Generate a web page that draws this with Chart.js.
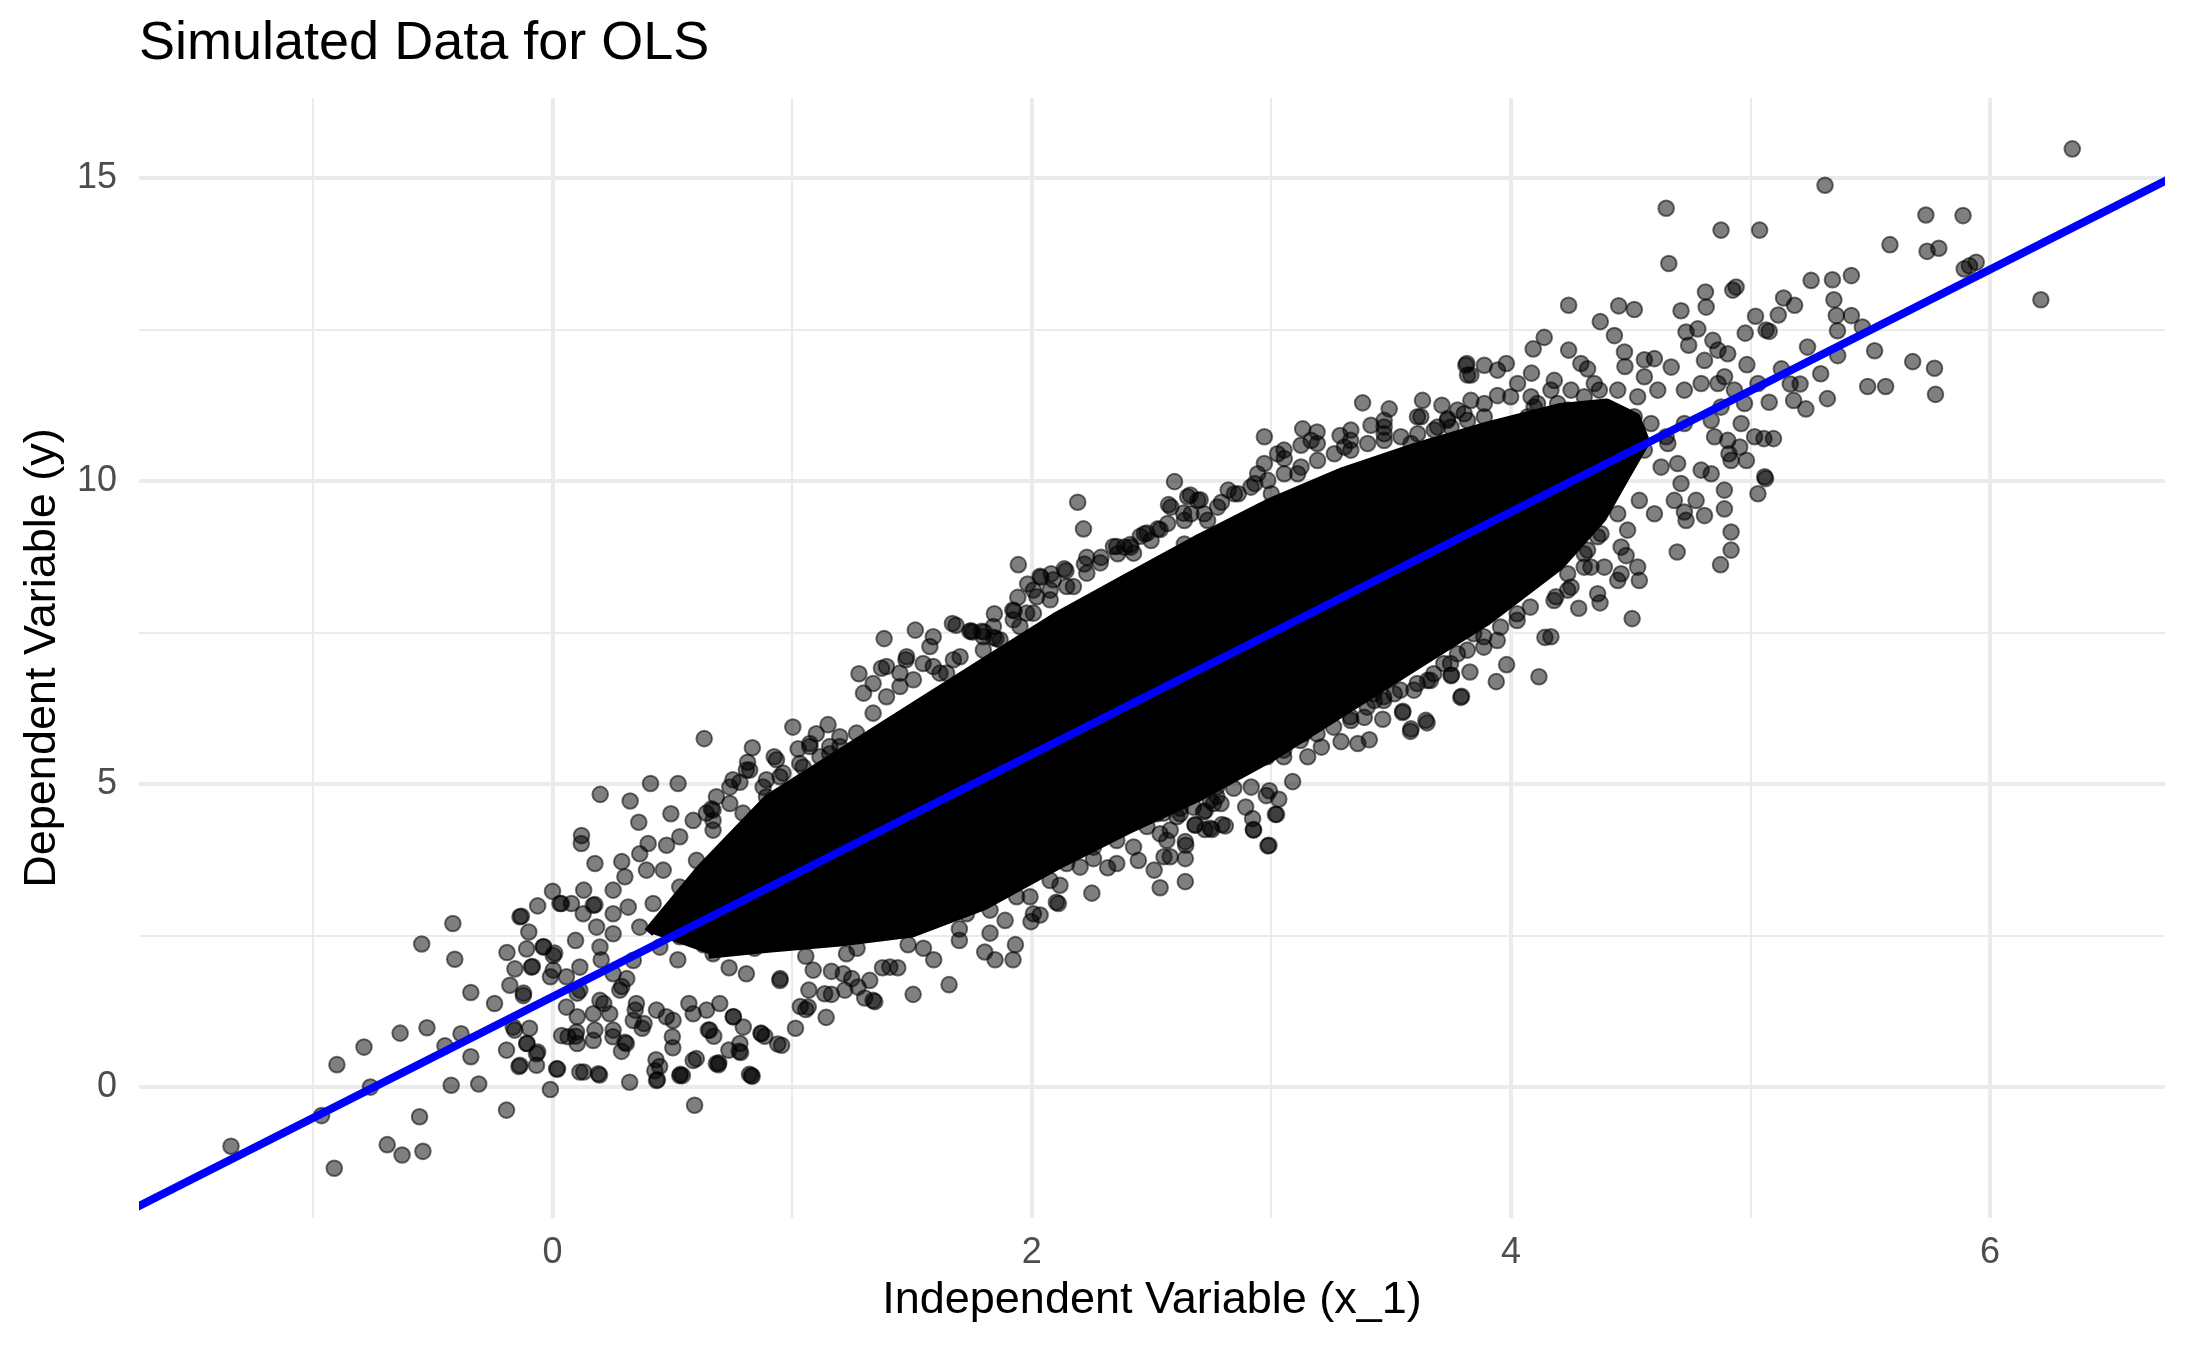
<!DOCTYPE html>
<html>
<head>
<meta charset="utf-8">
<title>Simulated Data for OLS</title>
<script src="https://cdn.jsdelivr.net/npm/chart.js@4/dist/chart.umd.min.js"></script>
<style>
  html, body { margin: 0; padding: 0; background: #ffffff; }
  #wrap { width: 2187px; height: 1351px; }
</style>
</head>
<body>
<div id="wrap"><canvas id="chart" width="2187" height="1351"></canvas></div>
<script>
// axis limits of the panel
const xMin = -1.726, xMax = 6.73;
const yMin = -2.16, yMax = 16.32;
const xGridTicks = [-1, 0, 1, 2, 3, 4, 5, 6];
const xTickLabels = [0, 2, 4, 6];
const yGridTicks = [0, 2.5, 5, 7.5, 10, 12.5, 15];
const yTickLabels = [0, 5, 10, 15];

// fitted OLS line, read at both ends of the panel
const fitX = [-1.8, 6.8];
const fitY = [-2.11, 15.09];

// saturated centre of the cloud (outline where the points merge into solid black)
const coreX = [0.40, 0.62, 0.90, 1.20, 1.50, 1.80, 2.10, 2.40, 2.70, 3.00, 3.30, 3.60, 3.90, 4.20, 4.40, 4.52, 4.56,
  4.48, 4.38, 4.20, 3.90, 3.60, 3.30, 3.00, 2.70, 2.40, 2.10, 1.80, 1.50, 1.20, 0.90, 0.65];
const coreY = [2.55, 3.60, 4.75, 5.50, 6.25, 7.00, 7.75, 8.40, 9.05, 9.65, 10.15, 10.55, 10.90, 11.20, 11.28, 11.05, 10.65,
  10.10, 9.40, 8.60, 7.70, 6.95, 6.20, 5.45, 4.80, 4.25, 3.65, 3.00, 2.55, 2.40, 2.30, 2.20];

// individual points around the core, [x_1, y]
const pointsLeft = [
  [-1.342,-0.975],[-0.964,-0.47],[-0.911,-1.34],[-0.760,0.0],[-0.900,0.37],[-0.787,0.66],[-0.636,0.89],[-0.524,0.98],
  [-0.690,-0.95],[-0.628,-1.12],[-0.541,-1.06],[-0.555,-0.49],[-0.546,2.36],[-0.416,2.70],[-0.408,2.11],[-0.423,0.03],
  [-0.308,0.05],[-0.449,0.68],[-0.382,0.88],[-0.341,0.50],[-0.341,1.56],[-0.242,1.38],[-0.192,-0.38],[-0.190,2.22],
  [-0.130,2.82],[-0.062,2.99],[0.0,3.23],[-0.099,2.56],[-0.009,-0.04],[-0.158,0.94],[-0.106,0.72],[-0.062,0.58],
  [-0.140,0.34],[0.021,0.30],[0.130,0.25],[0.196,0.20],[0.322,0.08],[0.438,0.12],[0.593,-0.30],[0.542,0.19],
  [0.692,0.37],[0.833,0.18],[0.956,0.69],[0.870,0.89],[0.785,0.57],[0.656,0.94],[0.432,0.45],[0.600,0.47],
  [0.500,0.83],[0.130,3.25],[0.289,3.72],[0.177,3.69],[0.302,3.47],[0.037,3.03],[0.177,3.01],[0.009,2.21],
  [-0.037,2.32],[-0.084,1.99],[-0.009,1.82],[-0.121,1.55],[0.103,1.55],[0.214,1.38],[0.103,1.16],[0.289,1.66],
  [0.345,1.27],[0.065,0.83],[0.177,0.94],[0.252,0.83],[0.382,1.05],[0.475,1.16],[0.643,1.27],[0.569,1.38],
  [0.755,1.16],[0.103,0.72],[0.308,0.72],[0.447,0.34],[0.736,0.61],[1.034,1.33],[1.07,1.60]
];
const pointsLowerLeft = [
  [0.633,5.75],[0.834,5.60],[0.814,5.36],[1.003,5.94],[1.150,5.98],[1.101,5.83],[0.925,5.45],[1.025,5.58],
  [0.782,5.03],[0.409,5.01],[0.524,5.01],[0.199,4.83],[0.324,4.72],[0.360,4.37],[0.121,4.15],[0.120,4.02],
  [0.494,4.51],[0.663,4.59],[0.587,4.40],[0.399,4.02],[0.476,3.99],[0.740,4.68],[0.670,4.24],[0.879,4.95],
  [0.949,5.12],[1.046,5.28],[1.157,5.50],[1.199,5.78],[1.220,1.60],[1.136,1.54],[1.338,1.43],[1.324,1.76],
  [1.275,1.65],[1.067,1.32],[1.213,1.87],[1.408,1.98],[0.038,0.85],[0.100,0.91],[0.170,0.77],[0.253,0.94],
  [0.302,0.74],[0.337,1.10],[0.239,1.21],[0.170,1.21],[0.114,1.60],[0.058,1.32],[0.198,1.43],[0.281,1.60],
  [0.350,1.38],[0.434,1.27],[0.503,1.10],[0.587,1.21],[0.650,0.94],[0.698,1.38],[0.754,1.16],[0.796,0.99],
  [0.872,0.88],[0.782,0.72],[0.684,0.39],[0.587,0.44],[0.434,0.11],[0.531,0.19],[0.830,0.19],[0.017,0.30],
  [0.114,0.25],[0.191,0.22],[-0.067,0.36],[-0.136,0.36],[-0.164,0.99],[-0.192,0.61],[-0.108,0.72],[-0.067,0.55],
  [-0.136,2.81],[-0.108,2.28],[-0.039,2.31],[-0.157,1.95],[-0.088,1.98],[0.003,2.17],[-0.178,1.68],[-0.122,1.51],
  [0.031,3.03],[0.079,3.03],[0.170,3.00],[0.128,2.86],[0.003,1.93],[0.058,1.82],[0.114,1.98],[0.184,2.64],
  [0.253,3.25],[0.364,3.85],[0.392,3.58],[0.253,2.86],[0.198,2.31],[0.253,2.53],[0.316,2.97]
];
const pointsMiddle = [
  [1.279,6.82],[1.298,6.50],[1.384,7.40],[1.373,6.91],[1.475,7.05],[1.514,7.54],[1.589,7.43],[1.669,7.65],
  [1.742,7.52],[1.791,7.52],[1.840,7.42],[1.921,7.87],[1.944,8.62],[2.035,8.43],[2.136,8.55],[2.192,9.65],
  [2.216,9.21],[2.230,8.74],[2.077,8.20],[2.174,8.26],[2.355,8.92],[2.411,8.95],[2.481,9.14],[2.571,9.61],
  [2.662,9.77],[2.596,9.99],[1.617,6.83],[1.547,6.99],[1.450,6.83],[1.338,6.66],[1.157,5.62],[1.074,5.67],
  [0.893,5.07],[0.670,4.57],[1.923,7.71],[1.979,7.82],[2.021,8.09],[1.673,7.05],[1.798,7.43],
  [2.251,3.20],[2.536,3.29],[2.641,3.39],[2.511,3.58],[2.578,3.80],[2.641,3.77],[2.641,4.05],[2.355,3.69],
  [2.425,3.96],[2.481,4.30],[2.578,4.24],[2.682,4.32],[2.745,4.27],[2.759,4.68],[2.717,4.54],[2.620,4.60],
  [2.550,4.52],[2.258,3.77],[2.111,3.03],[2.035,2.84],[1.889,2.75],[1.826,2.92],[2.118,3.33],[1.993,3.14],
  [2.202,3.63],
  [1.655,1.69],[1.505,1.53],[1.847,2.10],[1.922,2.10],[1.932,2.35],[2.808,4.31],[2.925,4.25],[2.990,3.99],
  [3.022,4.50],[1.345,1.41],[1.303,1.47],[1.057,1.28],[0.940,0.71],[0.822,0.21],[0.694,0.40],[0.534,0.21],
  [0.427,0.27],[1.164,1.53],[1.249,1.79],[1.441,1.97],[1.548,2.29],[1.698,2.61],[1.826,2.54],[1.997,2.73],
  [2.103,3.05],[2.317,3.62],[2.445,3.74],[2.552,3.80],[2.723,4.25],[2.893,4.62],[2.979,4.81],[1.014,0.97],
  [1.142,1.15],[0.886,0.84],[0.779,0.59],[0.673,0.84],[0.502,0.65],[0.374,0.97],[0.288,0.59],[0.096,0.84],
  [-0.096,0.97]
];
const pointsUpperMiddle = [
  [2.971,10.73],[3.131,10.86],[3.191,10.81],[3.287,10.75],[3.124,10.59],[3.381,11.29],[3.492,11.19],[3.631,11.33],
  [3.712,11.25],[3.812,11.91],[3.819,11.75],[3.416,10.92],[3.471,10.78],[3.624,11.06],[3.736,11.03],[3.791,10.70],
  [3.583,10.62],[3.054,10.37],[2.971,10.29],[3.110,10.12],[3.305,10.56],[2.581,9.57],[2.651,9.74],[2.693,9.68],
  [2.665,9.46],[2.792,9.65],[2.820,9.85],[2.862,9.79],[2.931,9.96],[3.000,9.79],[2.470,9.13],[2.526,9.21],
  [2.414,8.91],[2.359,8.80],[2.143,8.52],[2.039,8.41],[1.983,8.30],[1.927,7.86],[1.684,7.62],[1.754,7.51],
  [1.802,7.51],[1.851,7.40],[2.734,9.35],[2.637,8.96],[2.720,8.91],
  [3.388,6.10],[3.465,6.07],[3.548,6.18],[3.645,6.05],[3.583,5.91],[3.791,6.43],[3.652,6.71],[3.750,6.79],
  [3.513,6.49],[3.430,6.38],[3.332,6.05],[3.694,7.26],[3.777,7.15],[3.722,7.53],[3.750,7.81]
];
const pointsUpperRight = [
  [4.648,14.50],[4.877,14.14],[5.038,14.14],[4.659,13.59],[4.940,13.20],[4.926,13.15],[4.812,13.12],[4.815,12.87],
  [4.710,12.81],[5.021,12.72],[4.978,12.44],[5.065,12.49],[4.241,12.90],[4.450,12.89],[4.515,12.83],[4.373,12.63],
  [4.432,12.40],[4.474,12.13],[4.476,11.89],[4.139,12.37],[4.093,12.18],[4.241,12.16],[4.731,12.46],[4.780,12.51],
  [4.742,12.24],[4.985,11.92],[3.816,11.94],[3.889,11.91],[3.981,11.94],[3.833,11.75],[3.944,11.83],[4.086,11.78],
  [4.181,11.66],[4.292,11.94],[4.320,11.85],[4.348,11.61],[4.557,12.00],[4.599,12.02],[4.669,11.88],[4.808,11.99],
  [4.864,12.16],[4.905,12.10],[4.843,12.32],[4.864,11.61],[4.557,11.72],[4.446,11.50],[4.529,11.39],[4.613,11.50],
  [4.724,11.50],[4.794,11.61],[4.892,11.72],[3.833,11.33],[3.944,11.41],[4.028,11.61],[4.084,11.39],[3.805,11.11],
  [3.735,11.00],[3.805,10.67],[3.889,11.06],[3.972,10.78],[4.070,11.06],[4.111,11.28],[4.195,11.28],[4.251,11.50],
  [4.369,11.50],
  [5.031,9.79],[5.059,10.07],[4.891,9.85],[4.891,9.54],[4.919,9.16],[4.919,8.86],[4.875,8.62],[4.694,8.83],
  [4.808,9.43],[4.731,9.35],[4.773,9.68],[4.682,9.68],[4.836,10.12],[4.794,10.18],[4.710,9.96],[4.627,10.23],
  [4.696,10.29],[4.599,9.46],[4.536,9.68],[4.446,9.46],[4.487,9.19],[4.460,8.91],[4.529,8.58],[4.536,8.36],
  [4.446,8.36],[4.362,8.14],[4.390,8.58],[4.320,8.86],[4.237,8.47],[4.905,10.67],[4.850,10.73],[4.919,10.34],
  [4.961,10.95],[5.017,10.73],[4.975,11.28],[4.933,11.50],[5.031,11.61],[4.648,10.73],[4.724,10.95],[4.836,11.00],
  [4.877,11.22]
];
const pointsFarRight = [
  [6.343,15.48],[5.311,14.88],[5.732,14.39],[5.887,14.38],[5.582,13.90],[5.737,13.79],[5.786,13.84],[5.914,13.55],
  [5.942,13.61],[5.892,13.50],[6.212,12.99],[5.253,13.31],[5.342,13.32],[5.421,13.39],[5.138,13.02],[5.184,12.90],
  [5.116,12.74],[5.078,12.47],[5.348,12.99],[5.358,12.73],[5.363,12.48],[5.421,12.73],[5.467,12.54],[5.238,12.21],
  [5.364,12.07],[5.518,12.15],[5.677,11.97],[5.768,11.86],[5.772,11.43],[5.489,11.56],[5.564,11.56],[5.293,11.77],
  [5.321,11.36],[5.231,11.19],[5.180,11.33],[5.078,11.30],[5.056,10.70],[5.096,10.70],[5.063,10.04],[5.129,11.85],
  [5.166,11.60],[5.207,11.60],[4.983,10.34],[4.955,10.56],[4.910,10.45],
  [4.506,7.73],[4.372,7.99],[4.283,7.90],[4.460,8.47],[4.334,8.58],[4.251,8.25],[4.188,8.09],[4.167,7.43],
  [4.481,8.77],[4.724,9.49],[4.362,9.08],[4.306,8.80]
];
const pointsLowerRight = [
  [4.142,7.42],[4.117,6.77],[3.939,6.69],[3.982,6.97],[3.794,6.45],[3.829,6.85],[3.752,6.80],[3.650,6.01],
  [3.581,5.87],[3.549,6.20],[3.409,5.73],[3.361,5.67],[3.291,5.70],[3.209,5.61],[3.152,5.45],[3.089,5.04],
  [3.031,4.75],[3.017,4.50],[2.922,4.43],[2.926,4.24],[2.986,3.98],[2.992,4.89],[2.916,4.95],[2.843,4.93],
  [2.790,4.68],[2.752,4.25],[2.794,4.33],[2.682,4.33],[2.724,4.56],[2.643,3.99],[2.620,4.51],[3.664,6.71],
  [3.720,6.99],[3.887,7.26],[3.943,7.37],[4.026,7.70],[4.081,7.92],[3.845,7.48],[4.180,8.03],[3.595,6.55],
  [3.469,6.44],[3.428,6.49],[3.260,5.94],[3.135,5.83],[3.052,5.45],[2.773,4.95]
];
// points along the edge of the saturated core
const pointsCoreUpper = [
  [0.753,5.07],[0.823,5.23],[0.893,4.79],[0.962,5.18],[1.032,5.34],[1.116,5.45],[1.199,5.62],[1.269,5.84],
  [1.338,6.17],[1.394,6.44],[1.450,6.61],[1.506,6.72],[1.589,6.94],[1.701,7.10],[1.798,7.21],[1.868,7.38],
  [1.951,7.60],[2.007,7.82],[2.077,8.04],[2.146,8.26],[2.230,8.48],[2.286,8.65],[2.425,8.81],[2.536,9.20],
  [2.634,9.47],[2.703,9.69],[0.684,4.79],[0.642,4.52],[0.795,4.52],[1.074,5.62],[0.935,5.40],[1.394,6.94],
  [1.478,7.10],[1.575,7.27],[1.645,6.83],[1.840,7.60],[2.007,8.20],[2.090,8.37],[2.341,8.92],[2.453,9.09],
  [2.081,8.47],[2.220,8.63],[2.289,8.74],[2.387,8.91],[2.498,9.02],[2.567,9.30],[2.637,9.35],[2.720,9.46],
  [2.776,9.57],[2.846,9.79],[2.915,9.90],[2.985,10.01],[3.054,10.12],[3.124,10.23],[3.193,10.34],[3.263,10.45],
  [3.332,10.51],[3.402,10.62],[3.471,10.67],[3.541,10.73],[3.611,10.78],[3.680,10.84],[3.750,10.89],[3.819,11.00],
  [1.942,8.08],[1.844,7.81],[1.747,7.53],[3.332,10.84],[3.471,11.00],[3.166,10.67],[3.026,10.45],[2.943,10.12],
  [3.053,10.51],[3.192,10.62],[3.331,10.67],[3.471,10.89],[3.610,11.06],[3.694,10.89],[3.777,11.17],[3.889,11.28],
  [3.999,11.39],[4.097,11.22],[4.167,11.50],[4.237,11.17],[4.306,11.39],[4.390,11.17],[4.446,10.95],[4.515,11.06],
  [4.585,10.95],[4.557,10.51],[4.655,10.62],[4.306,9.41],[4.376,9.13],[4.237,9.13],[4.167,8.86],[4.306,8.58],
  [4.097,8.42],[4.237,8.20]
];
const pointsCoreLower = [
  [2.216,4.24],[2.286,4.52],[2.355,4.07],[2.425,4.52],[2.494,4.79],[2.564,4.07],[2.648,4.79],[2.703,5.07],
  [2.773,4.79],[2.146,3.69],[2.077,3.41],[2.007,2.86],[1.937,3.14],[1.868,3.41],[1.798,3.14],[1.728,2.86],
  [2.035,3.69],[2.258,3.96],
  [2.564,4.73],[2.634,4.95],[2.703,5.06],[2.773,5.17],[2.843,5.28],[2.912,5.39],[2.982,5.45],[3.052,5.56],
  [3.121,5.72],[3.191,5.83],[3.330,6.11],[3.400,6.27],[3.469,6.38],[3.539,6.55],[3.609,6.66],[3.678,6.82],
  [3.748,6.99],[3.818,7.21],[3.887,7.43],[3.957,7.59],[4.026,7.81],[2.536,4.18],[2.606,4.46],[2.522,4.51],
  [2.675,4.62],[2.745,4.73],
  [0.523,2.10],[0.737,1.97],[0.950,1.79],[1.164,1.91],[1.377,1.97],[1.591,2.10],[1.804,2.23],[0.630,2.35],
  [0.843,2.29],[1.057,2.16],[1.271,2.29],[1.484,2.35],[1.698,2.42],[0.310,1.79],[0.203,2.10],[0.096,2.42],
  [0.531,4.13],[0.601,3.74],[0.462,3.58],[0.531,3.30],[0.420,3.03],[0.503,2.75],[0.364,2.64],[0.448,2.31],
  [0.337,2.09],[0.253,1.87],[0.670,4.40],[0.740,4.95],[0.809,5.23],[0.670,3.30],[0.601,2.86],[0.531,2.48],
  [0.670,2.20],[0.809,1.87],[0.949,1.76],[1.088,1.93],[1.227,2.20]
];

const allPoints = [].concat(pointsLeft, pointsLowerLeft, pointsMiddle, pointsUpperMiddle,
  pointsUpperRight, pointsFarRight, pointsLowerRight, pointsCoreUpper, pointsCoreLower);

Chart.defaults.font.family = "'Liberation Sans', Arial, Helvetica, sans-serif";

function createChart() {
    const ctx = document.getElementById('chart').getContext('2d');
    new Chart(ctx, {
        type: 'scatter',
        data: {
            datasets: [
                {
                    type: 'line',
                    label: 'OLS fit',
                    data: fitX.map((x, i) => ({ x: x, y: fitY[i] })),
                    borderColor: '#0000FF',
                    borderWidth: 8,
                    pointRadius: 0,
                    fill: false,
                    clip: 0,
                    order: 0,
                },
                {
                    label: 'observations',
                    data: allPoints.map(p => ({ x: p[0], y: p[1] })),
                    backgroundColor: 'rgba(0, 0, 0, 0.5)',
                    borderColor: 'rgba(0, 0, 0, 0.55)',
                    borderWidth: 2,
                    pointRadius: 7.8,
                    order: 1,
                },
                {
                    type: 'line',
                    label: 'core',
                    data: coreX.map((x, i) => ({ x: x, y: coreY[i] })),
                    borderColor: '#000000',
                    backgroundColor: '#000000',
                    borderWidth: 10,
                    borderJoinStyle: 'round',
                    pointRadius: 0,
                    tension: 0,
                    fill: 'shape',
                    order: 2,
                },
            ],
        },
        options: {
            responsive: false,
            animation: false,
            devicePixelRatio: 1,
            events: [],
            layout: { padding: { left: 0, right: 22, top: 0, bottom: 0 } },
            plugins: {
                legend: { display: false },
                tooltip: { enabled: false },
                title: {
                    display: true,
                    text: 'Simulated Data for OLS',
                    align: 'start',
                    fullSize: false,
                    color: '#000000',
                    font: { size: 54, weight: 'normal' },
                    padding: { top: 11.6, bottom: 21.6 },
                },
            },
            scales: {
                x: {
                    type: 'linear',
                    min: xMin,
                    max: xMax,
                    afterBuildTicks: scale => { scale.ticks = xGridTicks.map(v => ({ value: v })); },
                    afterFit: scale => { scale.height = 133; },
                    border: { display: false },
                    grid: {
                        color: '#EBEBEB',
                        lineWidth: c => (c.tick && xTickLabels.includes(c.tick.value)) ? 4 : 2,
                        drawTicks: false,
                    },
                    ticks: {
                        autoSkip: false,
                        maxRotation: 0,
                        padding: 13,
                        color: '#4D4D4D',
                        font: { size: 36 },
                        callback: v => xTickLabels.includes(v) ? String(v) : '',
                    },
                    title: {
                        display: true,
                        text: 'Independent Variable (x_1)',
                        color: '#000000',
                        font: { size: 45 },
                        padding: { top: 0, bottom: 23 },
                    },
                },
                y: {
                    type: 'linear',
                    min: yMin,
                    max: yMax,
                    afterBuildTicks: scale => { scale.ticks = yGridTicks.map(v => ({ value: v })); },
                    afterFit: scale => { scale.width = 139; },
                    border: { display: false },
                    grid: {
                        color: '#EBEBEB',
                        lineWidth: c => (c.tick && yTickLabels.includes(c.tick.value)) ? 4 : 2,
                        drawTicks: false,
                    },
                    ticks: {
                        padding: 22,
                        color: '#4D4D4D',
                        font: { size: 36 },
                        callback: v => yTickLabels.includes(v) ? String(v) : '',
                    },
                    title: {
                        display: true,
                        text: 'Dependent Variable (y)',
                        color: '#000000',
                        font: { size: 45 },
                        padding: { top: 16, bottom: 0 },
                    },
                },
            },
        },
    });
}

createChart();
</script>
</body>
</html>
